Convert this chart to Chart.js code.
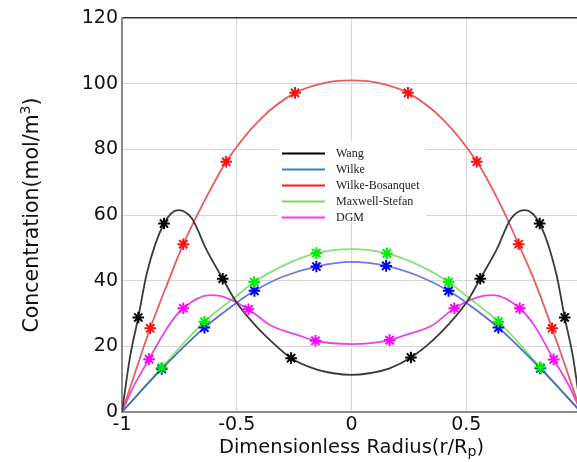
<!DOCTYPE html>
<html>
<head>
<meta charset="utf-8">
<script src="https://cdn.jsdelivr.net/npm/chart.js@4.4.0/dist/chart.umd.min.js"></script>
<style>
  html, body { margin: 0; padding: 0; background: #fff; overflow: hidden; }
  canvas { display: block; }
</style>
</head>
<body>
<canvas id="chart-konsentrasi" width="600" height="462"></canvas>
<script>
// profile curves, r/Rp vs concentration
const wangR = [-1, -0.965, -0.929, -0.892, -0.817, -0.754, -0.696, -0.631, -0.561, -0.503, -0.427, -0.355, -0.263, -0.166, -0.078, 0, 0.078, 0.166, 0.259, 0.355, 0.427, 0.503, 0.561, 0.631, 0.696, 0.754, 0.82, 0.892, 0.929, 0.965, 1];
const wangC = [0, 16.8, 28.8, 42.2, 57.4, 61.5, 59, 49.3, 40.6, 33.6, 27, 21.9, 16.4, 13.3, 11.8, 11.3, 11.8, 13.3, 16.6, 21.9, 27, 33.6, 40.6, 49.3, 59, 61.5, 57.4, 42.2, 28.8, 16.8, 0];

const wilkeR = [-1, -0.827, -0.641, -0.5, -0.423, -0.3, -0.153, 0, 0.151, 0.3, 0.423, 0.5, 0.64, 0.823, 1];
const wilkeC = [0, 13.1, 25.7, 33.3, 36.9, 41.2, 44.3, 45.7, 44.5, 41.2, 36.9, 33.3, 25.7, 13.3, 0];

const bosanquetR = [-1, -0.877, -0.8, -0.733, -0.65, -0.546, -0.4, -0.246, -0.1, 0, 0.1, 0.246, 0.4, 0.546, 0.65, 0.728, 0.8, 0.874, 1];
const bosanquetC = [0, 25.5, 39.5, 51.1, 63, 76.2, 89, 97.2, 100.5, 101, 100.5, 97.2, 89, 76.2, 63, 51.1, 39.5, 25.5, 0];

const maxwellR = [-1, -0.827, -0.641, -0.5, -0.424, -0.3, -0.153, 0, 0.154, 0.3, 0.423, 0.5, 0.64, 0.823, 1];
const maxwellC = [0, 13.5, 27.5, 35.4, 39.6, 44.5, 48.4, 49.6, 48.3, 44.5, 39.6, 35.4, 27.5, 13.6, 0];

const dgmR = [-1, -0.95, -0.882, -0.8, -0.733, -0.616, -0.573, -0.449, -0.355, -0.224, -0.157, 0, 0.166, 0.224, 0.355, 0.448, 0.573, 0.616, 0.733, 0.8, 0.881, 0.95, 1];
const dgmC = [0, 7.7, 16.1, 26, 31.6, 35.6, 35.4, 31.3, 26.5, 23.2, 21.7, 20.7, 21.9, 23.2, 26.5, 31.6, 35.4, 35.6, 31.6, 26, 16, 7.7, 0];

// asterisk markers along each curve
const wangStarR = [-0.929, -0.817, -0.561, -0.263, 0.259, 0.561, 0.82, 0.929];
const wangStarC = [28.8, 57.4, 40.6, 16.4, 16.6, 40.6, 57.4, 28.8];
const wilkeStarR = [-0.827, -0.641, -0.423, -0.153, 0.151, 0.423, 0.64, 0.823];
const wilkeStarC = [13.1, 25.7, 36.9, 44.3, 44.5, 36.9, 25.7, 13.3];
const bosanquetStarR = [-0.877, -0.733, -0.546, -0.246, 0.246, 0.546, 0.728, 0.874];
const bosanquetStarC = [25.5, 51.1, 76.2, 97.2, 97.2, 76.2, 51.1, 25.5];
const maxwellStarR = [-0.827, -0.641, -0.424, -0.153, 0.154, 0.423, 0.64, 0.823];
const maxwellStarC = [13.5, 27.5, 39.6, 48.4, 48.3, 39.6, 27.5, 13.6];
const dgmStarR = [-0.882, -0.733, -0.449, -0.157, 0.166, 0.448, 0.733, 0.881];
const dgmStarC = [16.1, 31.6, 31.3, 21.7, 21.9, 31.6, 31.6, 16];

const modelNames = ['Wang', 'Wilke', 'Wilke-Bosanquet', 'Maxwell-Stefan', 'DGM'];
const legendColors = ['#000000', '#3a7fd5', '#ff1a1a', '#86d85a', '#f03cf0'];

const xTicks = [-1, -0.5, 0, 0.5, 1];
const yTicks = [0, 20, 40, 60, 80, 100, 120];

function toPoints(xs, ys) {
    return xs.map((x, i) => ({ x: x, y: ys[i] }));
}

function curve(label, xs, ys, color, order) {
    return {
        label: label,
        data: toPoints(xs, ys),
        borderColor: color,
        borderWidth: 1.8,
        pointRadius: 0,
        cubicInterpolationMode: 'monotone',
        fill: false,
        order: order
    };
}

function stars(xs, ys, color) {
    return {
        label: '',
        data: toPoints(xs, ys),
        showLine: false,
        pointStyle: 'star',
        pointRadius: 5.8,
        pointBorderWidth: 2,
        pointBorderColor: color,
        pointBackgroundColor: color,
        order: 0
    };
}

// Wilke line: steel blue near the walls, lighter towards the centre
let wilkeGradient = null;
function wilkeStroke(context) {
    const area = context.chart.chartArea;
    if (!area) return '#6f78e4';
    if (!wilkeGradient) {
        const g = context.chart.ctx.createLinearGradient(area.left, 0, area.right, 0);
        g.addColorStop(0, '#3d6bbd');
        g.addColorStop(0.17, '#4a6cc8');
        g.addColorStop(0.3, '#7077e2');
        g.addColorStop(0.7, '#7077e2');
        g.addColorStop(0.83, '#4a6cc8');
        g.addColorStop(1, '#3d6bbd');
        wilkeGradient = g;
    }
    return wilkeGradient;
}

const FONT = 'DejaVu Sans';

// legend box and axis titles with sub/superscripts
const overlayPlugin = {
    id: 'overlay',
    afterDraw(chart) {
        const ctx = chart.ctx;
        ctx.save();

        // legend
        ctx.fillStyle = '#ffffff';
        ctx.fillRect(278, 141, 148, 82);
        ctx.font = '12px "Liberation Serif"';
        ctx.textBaseline = 'middle';
        modelNames.forEach((name, i) => {
            const y = 153.5 + i * 16;
            ctx.strokeStyle = legendColors[i];
            ctx.lineWidth = 2;
            ctx.beginPath();
            ctx.moveTo(282, y);
            ctx.lineTo(325, y);
            ctx.stroke();
            ctx.fillStyle = '#1a1a1a';
            ctx.fillText(name, 336, y + 0.5);
        });

        // x title
        ctx.fillStyle = '#111';
        ctx.textBaseline = 'alphabetic';
        const xa = 'Dimensionless Radius(r/R', xb = 'p', xc = ')';
        ctx.font = '19.5px ' + FONT;
        const wa = ctx.measureText(xa).width, wc = ctx.measureText(xc).width;
        ctx.font = '14px ' + FONT;
        const wb = ctx.measureText(xb).width;
        let x0 = 351.5 - (wa + wb + wc) / 2;
        const base = 453;
        ctx.font = '19.5px ' + FONT;
        ctx.fillText(xa, x0, base);
        ctx.font = '14px ' + FONT;
        ctx.fillText(xb, x0 + wa, base + 3);
        ctx.font = '19.5px ' + FONT;
        ctx.fillText(xc, x0 + wa + wb, base);

        // y title
        ctx.translate(38, 215);
        ctx.rotate(-Math.PI / 2);
        const ya = 'Concentration(mol/m', yb = '3', yc = ')';
        ctx.font = '20.5px ' + FONT;
        const va = ctx.measureText(ya).width, vc = ctx.measureText(yc).width;
        ctx.font = '14px ' + FONT;
        const vb = ctx.measureText(yb).width;
        let y0 = -(va + vb + vc) / 2;
        ctx.font = '20.5px ' + FONT;
        ctx.fillText(ya, y0, 0);
        ctx.font = '14px ' + FONT;
        ctx.fillText(yb, y0 + va, -8);
        ctx.font = '20.5px ' + FONT;
        ctx.fillText(yc, y0 + va + vb, 0);

        ctx.restore();
    }
};

const ctxKonsentrasi = document.getElementById('chart-konsentrasi').getContext('2d');
new Chart(ctxKonsentrasi, {
    type: 'line',
    data: {
        datasets: [
            curve(modelNames[0], wangR, wangC, '#3a3a3a', 1),
            curve(modelNames[3], maxwellR, maxwellC, '#84e27a', 3),
            curve(modelNames[1], wilkeR, wilkeC, wilkeStroke, 2),
            curve(modelNames[2], bosanquetR, bosanquetC, '#e85c5c', 1),
            curve(modelNames[4], dgmR, dgmC, '#e445e4', 1),
            stars(wangStarR, wangStarC, '#000000'),
            stars(maxwellStarR, maxwellStarC, '#00ee00'),
            stars(wilkeStarR, wilkeStarC, '#0000ff'),
            stars(bosanquetStarR, bosanquetStarC, '#ff1010'),
            stars(dgmStarR, dgmStarC, '#ff00ff')
        ]
    },
    options: {
        responsive: false,
        animation: false,
        layout: { padding: { left: 0, right: 19, top: 18, bottom: 0 } },
        plugins: { legend: { display: false }, tooltip: { enabled: false } },
        scales: {
            x: {
                type: 'linear',
                min: -1,
                max: 1,
                afterBuildTicks: s => { s.ticks = xTicks.map(v => ({ value: v })); },
                afterFit: s => { s.height = 50; },
                ticks: {
                    font: { family: FONT, size: 19 }, color: '#111', padding: 2, maxRotation: 0,
                    callback: v => String(v)
                },
                grid: { color: '#d6d6d6', lineWidth: 1, drawTicks: false },
                border: { color: '#8c8c8c', width: 2 }
            },
            y: {
                min: 0,
                max: 120,
                afterBuildTicks: s => { s.ticks = yTicks.map(v => ({ value: v })); },
                afterFit: s => { s.width = 122; },
                ticks: { font: { family: FONT, size: 19 }, color: '#111', padding: 4, callback: v => String(v) },
                grid: {
                    color: c => c.tick && c.tick.value === 120 ? '#333' : '#d6d6d6',
                    lineWidth: c => c.tick && c.tick.value === 120 ? 1.5 : 1,
                    drawTicks: false
                },
                border: { color: '#8c8c8c', width: 2 }
            }
        }
    },
    plugins: [overlayPlugin]
});
</script>
</body>
</html>
